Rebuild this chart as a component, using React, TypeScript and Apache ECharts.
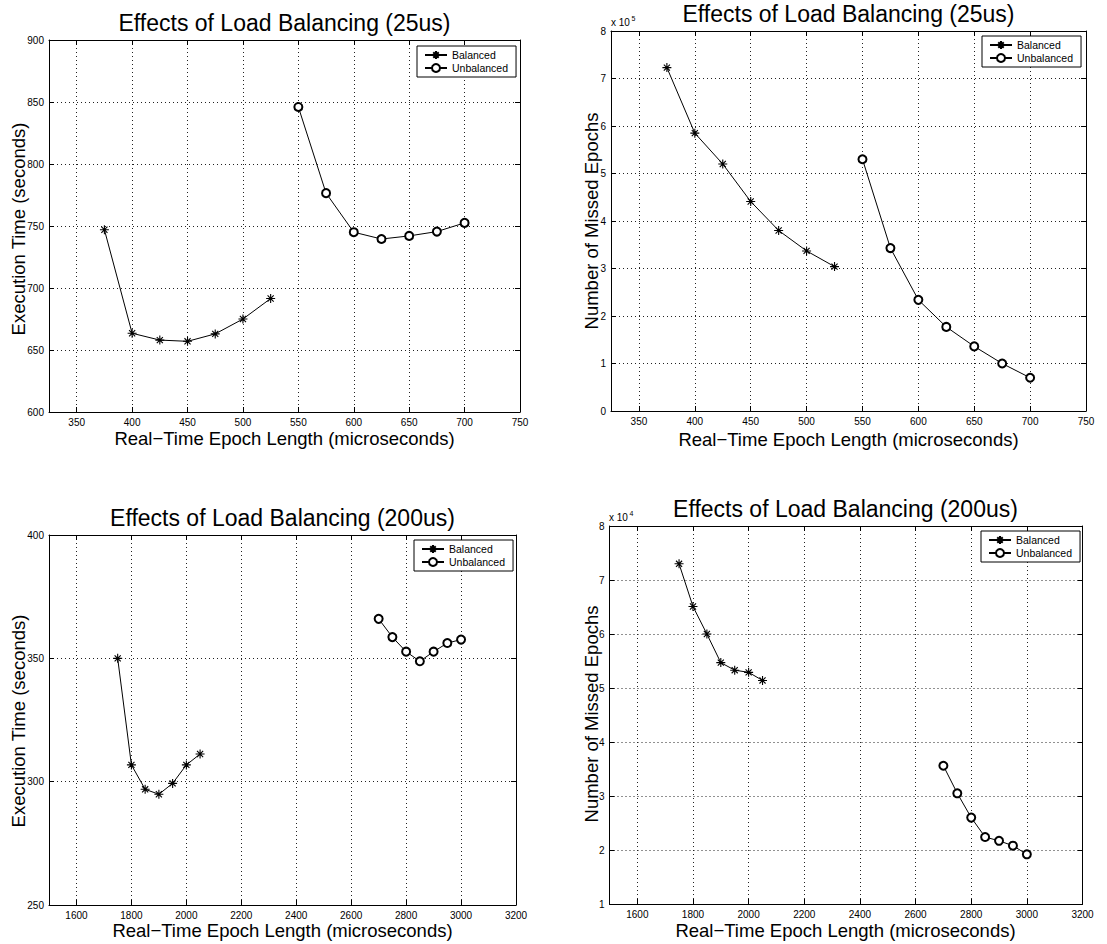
import React, { useEffect, useRef } from 'react';
import * as echarts from 'echarts';

const FONT = '"Liberation Sans", Arial, Helvetica, sans-serif';

// ---- data ----
const epoch25Balanced = [375, 400, 425, 450, 475, 500, 525];
const epoch25Unbalanced = [550, 575, 600, 625, 650, 675, 700];
const exec25Balanced = [747, 663.5, 658, 657, 663, 675, 691.5];
const exec25Unbalanced = [846, 776.5, 745, 739.5, 742, 745.5, 752.5];
const missed25Balanced = [723000, 585000, 520000, 441000, 380000, 337000, 304000];
const missed25Unbalanced = [530000, 343000, 234000, 177000, 136000, 100000, 70000];

const epoch200Balanced = [1750, 1800, 1850, 1900, 1950, 2000, 2050];
const epoch200Unbalanced = [2700, 2750, 2800, 2850, 2900, 2950, 3000];
const exec200Balanced = [350, 306.8, 296.9, 294.9, 299.3, 306.8, 311.2];
const exec200Unbalanced = [366, 358.6, 352.7, 348.8, 352.7, 356.2, 357.6];
const missed200Balanced = [73000, 65100, 60000, 54700, 53300, 52900, 51400];
const missed200Unbalanced = [35600, 30500, 26000, 22400, 21700, 20800, 19200];

const seriesNames = ['Balanced', 'Unbalanced'];
const titles = [
  'Effects of Load Balancing (25us)',
  'Effects of Load Balancing (25us)',
  'Effects of Load Balancing (200us)',
  'Effects of Load Balancing (200us)',
];
const xAxisTitle = 'Real\u2212Time Epoch Length (microseconds)';
const yAxisTitles = [
  'Execution Time (seconds)',
  'Number of Missed Epochs',
  'Execution Time (seconds)',
  'Number of Missed Epochs',
];
const xRanges = [
  [325, 750, 50],
  [325, 750, 50],
  [1500, 3200, 200],
  [1500, 3200, 200],
];
const yRanges = [
  [600, 900, 50],
  [0, 800000, 100000],
  [250, 400, 50],
  [10000, 80000, 10000],
];
const yScales = [1, 100000, 1, 10000];
const exponents = ['', '5', '', '4'];

const balancedX = [epoch25Balanced, epoch25Balanced, epoch200Balanced, epoch200Balanced];
const balancedY = [exec25Balanced, missed25Balanced, exec200Balanced, missed200Balanced];
const unbalancedX = [epoch25Unbalanced, epoch25Unbalanced, epoch200Unbalanced, epoch200Unbalanced];
const unbalancedY = [exec25Unbalanced, missed25Unbalanced, exec200Unbalanced, missed200Unbalanced];

// ---- layout (pixels) ----
const grids = [
  { left: 49, top: 40, width: 471, height: 372 },
  { left: 611, top: 31, width: 475, height: 380 },
  { left: 49, top: 535, width: 467, height: 370 },
  { left: 609.5, top: 526, width: 473, height: 378 },
];
const titlePos = [
  [284.5, 23],
  [848.5, 14],
  [282.5, 517.5],
  [845.5, 508.5],
];
const xNamePos = [
  [284.5, 438.5],
  [848.5, 439],
  [282.5, 930.5],
  [845.5, 930],
];
const yNamePos = [
  [18, 229],
  [591, 221],
  [18, 721],
  [591, 714],
];
const legendPos = [
  [417, 46],
  [982, 36],
  [414, 540],
  [981, 531],
];
const expPos = [
  [0, 0],
  [611, 22],
  [0, 0],
  [609, 517],
];

const ASTERISK = 'path://M5 0L5 10M0 5L10 5M1.6 1.6L8.4 8.4M1.6 8.4L8.4 1.6';

function buildOption() {
  const xAxis: any[] = [];
  const yAxis: any[] = [];
  const series: any[] = [];
  const legend: any[] = [];
  const graphic: any[] = [];

  grids.forEach((g, i) => {
    const [xmin, xmax, xstep] = xRanges[i];
    const [ymin, ymax, ystep] = yRanges[i];
    const common = {
      axisLine: { show: true, onZero: false, lineStyle: { color: '#000', width: 1 } },
      axisTick: { show: true, inside: true, length: 5, lineStyle: { color: '#000', width: 1 } },
    };
    xAxis.push({
      type: 'value',
      gridIndex: i,
      position: 'bottom',
      min: xmin,
      max: xmax,
      splitNumber: 8,
      minInterval: xstep,
      maxInterval: xstep,
      ...common,
      axisLabel: {
        color: '#000',
        fontSize: 10,
        fontFamily: FONT,
        margin: 5,
        formatter: (v: number) => (v % xstep === 0 ? String(v) : ''),
      },
      splitLine: { show: true, lineStyle: { color: '#222', width: 1, type: [1, 3] } },
    });
    xAxis.push({
      type: 'value',
      gridIndex: i,
      position: 'top',
      min: xmin,
      max: xmax,
      splitNumber: 8,
      minInterval: xstep,
      maxInterval: xstep,
      ...common,
      axisLabel: { show: false },
      splitLine: { show: false },
    });
    yAxis.push({
      type: 'value',
      gridIndex: i,
      position: 'left',
      min: ymin,
      max: ymax,
      interval: ystep,
      ...common,
      axisLabel: {
        color: '#000',
        fontSize: 10,
        fontFamily: FONT,
        margin: 5,
        formatter: (v: number) => String(Math.round((v / yScales[i]) * 1000) / 1000),
      },
      splitLine: { show: true, lineStyle: { color: '#222', width: 1, type: [1, 3] } },
    });
    yAxis.push({
      type: 'value',
      gridIndex: i,
      position: 'right',
      min: ymin,
      max: ymax,
      interval: ystep,
      ...common,
      axisLabel: { show: false },
      splitLine: { show: false },
    });

    series.push({
      type: 'line',
      name: seriesNames[0],
      xAxisIndex: 2 * i,
      yAxisIndex: 2 * i,
      data: balancedX[i].map((x, j) => [x, balancedY[i][j]]),
      symbol: ASTERISK,
      symbolSize: 9,
      showAllSymbol: true,
      lineStyle: { color: '#000', width: 1 },
      itemStyle: { color: '#000', borderColor: '#000', borderWidth: 1.1 },
      emphasis: { disabled: true },
      z: 3,
    });
    series.push({
      type: 'line',
      name: seriesNames[1],
      xAxisIndex: 2 * i,
      yAxisIndex: 2 * i,
      data: unbalancedX[i].map((x, j) => [x, unbalancedY[i][j]]),
      symbol: 'emptyCircle',
      symbolSize: 8,
      showAllSymbol: true,
      lineStyle: { color: '#000', width: 1 },
      itemStyle: { color: '#000', borderColor: '#000', borderWidth: 1 },
      emphasis: { disabled: true },
      z: 3,
    });

    legend.push({
      data: seriesNames,
      orient: 'vertical',
      left: legendPos[i][0],
      top: legendPos[i][1],
      padding: [3, 8, 3, 7],
      itemGap: 1,
      itemWidth: 22,
      itemHeight: 10,
      backgroundColor: '#fff',
      borderColor: '#000',
      borderWidth: 1,
      borderRadius: 0,
      selectedMode: false,
      textStyle: { fontSize: 10.5, color: '#000', fontFamily: FONT, lineHeight: 12 },
    });

    graphic.push({
      type: 'text',
      x: titlePos[i][0],
      y: titlePos[i][1],
      silent: true,
      style: {
        text: titles[i],
        fontSize: 23,
        fontFamily: FONT,
        fill: '#000',
        textAlign: 'center',
        textVerticalAlign: 'middle',
      },
    });
    graphic.push({
      type: 'text',
      x: xNamePos[i][0],
      y: xNamePos[i][1],
      silent: true,
      style: {
        text: xAxisTitle,
        fontSize: 18.5,
        fontFamily: FONT,
        fill: '#000',
        textAlign: 'center',
        textVerticalAlign: 'middle',
      },
    });
    graphic.push({
      type: 'text',
      x: yNamePos[i][0],
      y: yNamePos[i][1],
      rotation: Math.PI / 2,
      silent: true,
      style: {
        text: yAxisTitles[i],
        fontSize: 18.5,
        fontFamily: FONT,
        fill: '#000',
        textAlign: 'center',
        textVerticalAlign: 'middle',
      },
    });
    if (exponents[i]) {
      graphic.push({
        type: 'text',
        x: expPos[i][0],
        y: expPos[i][1],
        silent: true,
        style: {
          text: 'x 10',
          fontSize: 10,
          fontFamily: FONT,
          fill: '#000',
          textAlign: 'left',
          textVerticalAlign: 'middle',
        },
      });
      graphic.push({
        type: 'text',
        x: expPos[i][0] + 20.5,
        y: expPos[i][1] - 4,
        silent: true,
        style: {
          text: exponents[i],
          fontSize: 7,
          fontFamily: FONT,
          fill: '#000',
          textAlign: 'left',
          textVerticalAlign: 'middle',
        },
      });
    }
  });

  return {
    animation: false,
    backgroundColor: '#fff',
    textStyle: { fontFamily: FONT },
    grid: grids.map((g) => ({ ...g, containLabel: false })),
    xAxis,
    yAxis,
    legend,
    series,
    graphic,
  };
}

export default function App() {
  const ref = useRef<HTMLDivElement>(null);
  useEffect(() => {
    if (!ref.current) return;
    const chart = echarts.init(ref.current, undefined, { renderer: 'svg' });
    chart.setOption(buildOption() as any);
    return () => chart.dispose();
  }, []);
  return (
    <div
      ref={ref}
      style={{ position: 'absolute', left: 0, top: 0, width: 1107, height: 944, background: '#fff' }}
    />
  );
}
